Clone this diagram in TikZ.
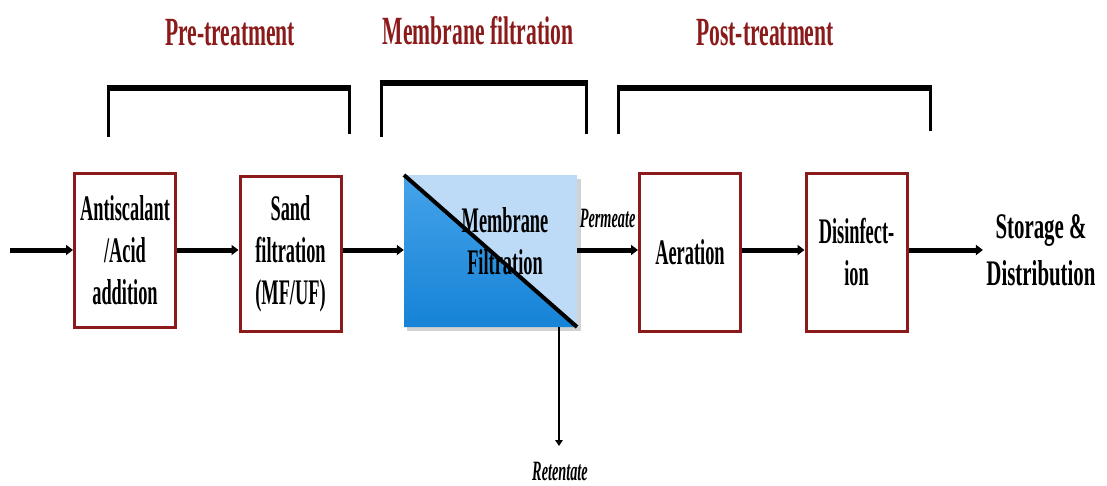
\documentclass[tikz,border=0pt]{standalone}
\usepackage{fontspec}
\setmainfont{Liberation Serif}
\newfontfamily\condA[FakeStretch=0.51]{Liberation Serif}
\newfontfamily\condB[FakeStretch=0.58]{Liberation Serif}
\newfontfamily\condT[FakeStretch=0.54]{Liberation Serif}
\usetikzlibrary{arrows.meta,shadows}
\definecolor{boxred}{HTML}{8B1A1A}
\definecolor{titlered}{HTML}{8B1A1A}
\definecolor{mlight}{HTML}{BDDBF6}
\definecolor{mdarktop}{HTML}{45A3EA}
\definecolor{mdarkbot}{HTML}{1683D6}
\tikzset{
  procbox/.style={draw=boxred, line width=3pt, fill=white, minimum width=101pt, align=center,
    font=\condA\bfseries\fontsize{36}{42}\selectfont, inner sep=0pt},
  flow/.style={line width=5pt, -{Triangle[length=7pt,width=10pt]}},
  thinflow/.style={line width=2.6pt, -{Triangle[length=6pt,width=7.5pt]}},
  titletext/.style={text=titlered, font=\condT\bfseries\fontsize{40}{44}\selectfont},
  smalllab/.style={font=\condA\bfseries\itshape\fontsize{28}{30}\selectfont},
  brside/.style={line width=3pt},
  brtop/.style={line width=6pt},
}
\begin{document}
\begin{tikzpicture}[x=1pt,y=-1pt]
\useasboundingbox (0,0) rectangle (1107,485);
% titles
\node[titletext] (t1) at (230,33) {Pre-treatment};
\node[titletext] (t2) at (478,31) {Membrane filtration};
\node[titletext] (t3) at (765,33) {Post-treatment};
% brackets
\coordinate (b1a) at (108,137); \coordinate (b1b) at (108,88);
\coordinate (b1c) at (349,88); \coordinate (b1d) at (349,134);
\draw[brside] (b1a) -- (b1b); \draw[brside] (b1c) -- (b1d);
\draw[brtop] ([xshift=-1.5pt]b1b) -- ([xshift=1.5pt]b1c);
\coordinate (b2a) at (381,137); \coordinate (b2b) at (381,83);
\coordinate (b2c) at (586,83); \coordinate (b2d) at (586,134);
\draw[brside] (b2a) -- (b2b); \draw[brside] (b2c) -- (b2d);
\draw[brtop] ([xshift=-1.5pt]b2b) -- ([xshift=1.5pt]b2c);
\coordinate (b3a) at (618,134); \coordinate (b3b) at (618,88);
\coordinate (b3c) at (930,88); \coordinate (b3d) at (930,131);
\draw[brside] (b3a) -- (b3b); \draw[brside] (b3c) -- (b3d);
\draw[brtop] ([xshift=-1.5pt]b3b) -- ([xshift=1.5pt]b3c);
% process boxes
\node[procbox, minimum height=154pt] (anti) at (125,250) {Antiscalant\\/Acid\\addition};
\node[procbox, minimum height=155pt] (sand) at (290.5,253.5) {Sand\\filtration\\(MF/UF)};
\node[procbox, minimum height=158pt] (aer) at (690,252) {Aeration};
\node[procbox, minimum height=158pt] (dis) at (856.5,252) {Disinfect-\\ion};
% membrane
\fill[gray!35] (407,179) rectangle (581,331);
\coordinate (mtl) at (404,175);
\coordinate (mtr) at (577,175);
\coordinate (mbr) at (577,327);
\coordinate (mbl) at (404,327);
\fill[mlight] (mtl) -- (mtr) -- (mbr) -- cycle;
\shade[top color=mdarktop, bottom color=mdarkbot] (mtl) -- (mbr) -- (mbl) -- cycle;
\node[draw=none, minimum width=173pt, minimum height=152pt, inner sep=0pt] (mem) at (490.5,251) {};
\draw[line width=4pt] (mtl) -- (mbr);
\node[font=\condA\bfseries\fontsize{36}{42}\selectfont, align=center] (memlab) at (505,241) {Membrane\\Filtration};
% storage
\node[font=\condB\bfseries\fontsize{36}{47}\selectfont, align=center] (store) at (1041,250) {Storage \&\\Distribution};
% inlet
\coordinate (in) at (10,250);
% arrows
\draw[flow] (in) -- (anti.west |- in);
\draw[flow] (anti.east |- in) -- (sand.west |- in);
\draw[flow] (sand.east |- in) -- (mem.west |- in);
\draw[flow] (mem.east |- in) -- (aer.west |- in) node[midway, above=16pt, smalllab] (perm) {Permeate};
\draw[flow] (aer.east |- in) -- (dis.west |- in);
\draw[flow] (dis.east |- in) -- (store.west |- in);
% retentate
\coordinate (rtop) at (559,327);
\coordinate (rbot) at (559,446);
\draw[thinflow] (rtop) -- (rbot);
\node[smalllab] (ret) at (560,471) {Retentate};
\end{tikzpicture}
\end{document}
